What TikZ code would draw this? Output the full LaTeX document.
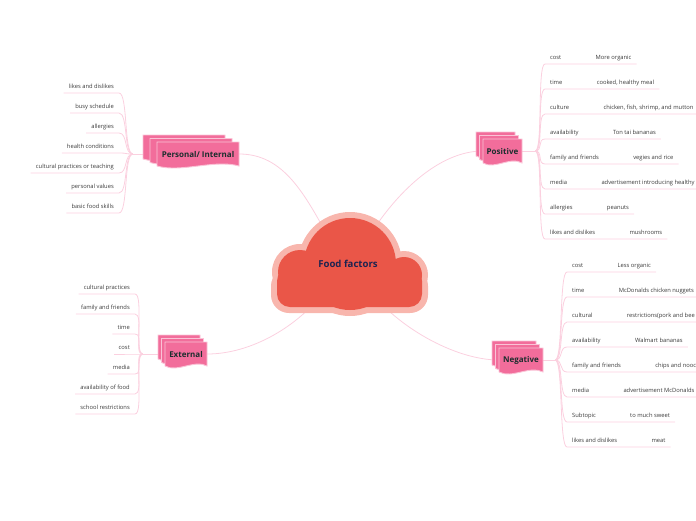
\documentclass[tikz,border=0pt]{standalone}
\usepackage{fontspec}
\setmainfont{Open Sans}
\usetikzlibrary{positioning,backgrounds}
\definecolor{Ink}{HTML}{1D2350}
\definecolor{TopicInk}{HTML}{1C2E2E}
\definecolor{LeafInk}{HTML}{3A3A3A}
\definecolor{CloudRed}{HTML}{EA5648}
\definecolor{CloudRim}{HTML}{F8B6AD}
\definecolor{TopicPink}{HTML}{F26D9B}
\definecolor{TopicRim}{HTML}{FAC3D6}
\definecolor{LinkPink}{HTML}{FBD0DF}
\tikzset{
  link/.style={draw=LinkPink, line width=0.8pt},
  flagbox/.style={fill=TopicPink, draw=TopicRim, line width=0.9pt},
  topic/.style={font=\fontsize{8}{9}\selectfont\bfseries, text=TopicInk,
    inner sep=0pt, minimum height=16pt},
  leaf/.style={font=\fontsize{5.8}{6.5}\selectfont, text=LeafInk,
    inner xsep=5pt, inner ysep=3pt, text height=4.2pt, text depth=1.5pt},
}
% three stacked flags with a wavy foot: name, x, y, width, step, text
\newcommand{\topicflag}[6]{%
  \foreach \k in {2,1,0}
    \draw[flagbox] ({#2-\k*#5},{#3-\k*3.5}) -- ++(#4,0) -- ++(0,24)
      .. controls +(-0.3*#4,-7) and +(0.3*#4,7) .. ++(-#4,0) -- cycle;
  \node[topic, minimum width=#4pt] (#1) at ({#2+#4/2},{#3+12}) {#6};
}

\begin{document}
\begin{tikzpicture}[x=1pt, y=-1pt]
  \useasboundingbox (0,0) rectangle (696,520);

  % cloud
  \fill[CloudRim, rounded corners=18pt] (271,268) rectangle (428,313);
  \fill[CloudRim] (300,272) circle (28) (350,264) circle (52) (404,275) circle (24);
  \fill[CloudRed, rounded corners=13pt] (277,268) rectangle (422,307);
  \fill[CloudRed] (300,272) circle (22) (350,264) circle (46) (404,275) circle (18);
  \node[font=\fontsize{9.6}{11}\selectfont\bfseries, text=Ink] (core) at (348,264) {Food factors};

  % topics
  \topicflag{pers}{157}{142}{82}{7}{Personal/ Internal}
  \topicflag{exte}{165}{342}{42}{3.5}{External}
  \topicflag{posi}{483}{139}{39}{3.5}{Positive}
  \topicflag{nega}{499}{348}{44}{3.5}{Negative}

  \coordinate (pershub) at ([xshift=-24pt]pers.west);
  \coordinate (extehub) at ([xshift=-22pt]exte.west);
  \coordinate (posihub) at ([xshift=13pt]posi.east);
  \coordinate (negahub) at ([xshift=12pt]nega.east);

  \begin{scope}[on background layer]
    \draw[link] (pers.east) .. controls +(45,0) and +(-25,-45) .. (330,240);
    \draw[link] (exte.east) .. controls +(45,0) and +(-25,35) .. (325,290);
    \draw[link] (posi.west) .. controls +(-45,0) and +(25,-40) .. (370,235);
    \draw[link] (nega.west) .. controls +(-45,0) and +(25,35) .. (370,290);
    \draw[link] (pershub) -- (pers.west);
    \draw[link] (extehub) -- (exte.west);
    \draw[link] (posihub) -- (posi.east);
    \draw[link] (negahub) -- (nega.east);
  \end{scope}

  % personal / internal
  \foreach \i/\a in {1/likes and dislikes, 2/busy schedule, 3/allergies,
      4/health conditions, 5/cultural practices or teaching,
      6/personal values, 7/basic food skills} {
    \node[leaf, anchor=south east] (persc\i) at (119,{93+20*(\i-1)}) {\a};
    \begin{scope}[on background layer]
      \draw[link] (pershub) .. controls +(-9,0) and +(9,0) .. (persc\i.south east)
        -- (persc\i.south west);
    \end{scope}
  }

  % external
  \foreach \i/\a in {1/cultural practices, 2/family and friends, 3/time,
      4/cost, 5/media, 6/availability of food, 7/school restrictions} {
    \node[leaf, anchor=south east] (extec\i) at (135,{294+20*(\i-1)}) {\a};
    \begin{scope}[on background layer]
      \draw[link] (extehub) .. controls +(-9,0) and +(9,0) .. (extec\i.south east)
        -- (extec\i.south west);
    \end{scope}
  }

  % positive
  \foreach \i/\a/\b in {1/cost/More organic, {2/time/cooked, healthy meal},
      {3/culture/chicken, fish, shrimp, and mutton}, 4/availability/Ton tai bananas,
      5/family and friends/vegies and rice, 6/media/advertisement introducing healthy,
      7/allergies/peanuts, 8/likes and dislikes/mushrooms} {
    \node[leaf, anchor=south west] (posic\i) at (545,{64+25*(\i-1)}) {\a};
    \node[leaf, right=24pt of posic\i] (posig\i) {\b};
    \begin{scope}[on background layer]
      \draw[link] (posihub) .. controls +(8,0) and +(-8,0) .. (posic\i.south west)
        -- (posic\i.south east) -- (posig\i.south west) -- (posig\i.south east);
    \end{scope}
  }

  % negative
  \foreach \i/\a/\b in {1/cost/Less organic, 2/time/McDonalds chicken nuggets,
      3/cultural/restrictions(pork and bee, 4/availability/Walmart bananas,
      5/family and friends/chips and nooc, 6/media/advertisement McDonalds,
      7/Subtopic/to much sweet, 8/likes and dislikes/meat} {
    \node[leaf, anchor=south west] (negac\i) at (567,{272+25*(\i-1)}) {\a};
    \node[leaf, right=24pt of negac\i] (negag\i) {\b};
    \begin{scope}[on background layer]
      \draw[link] (negahub) .. controls +(8,0) and +(-8,0) .. (negac\i.south west)
        -- (negac\i.south east) -- (negag\i.south west) -- (negag\i.south east);
    \end{scope}
  }
\end{tikzpicture}
\end{document}
